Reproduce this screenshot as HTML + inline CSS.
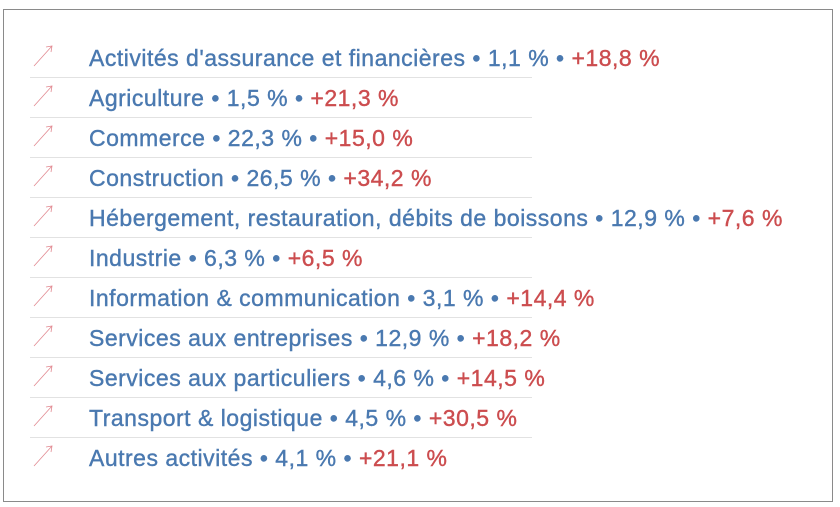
<!DOCTYPE html>
<html><head><meta charset="utf-8"><style>
html,body{margin:0;padding:0;background:#fff;}
body{width:840px;height:507px;position:relative;overflow:hidden;font-family:"Liberation Sans",sans-serif;}
#frame{position:absolute;left:3px;top:9px;width:830px;height:493px;border:1px solid #8a8a8a;box-sizing:border-box;}
.row{position:absolute;left:30px;width:502px;height:40px;}
.sep{position:absolute;left:0;right:0;bottom:0;height:1px;background:#e2e2e2;}
.lbl{position:absolute;left:59px;top:6px;font-size:23px;line-height:28px;white-space:nowrap;color:#4a79b0;letter-spacing:0.5px;-webkit-text-stroke:0.4px currentColor;}
.red{color:#cc4d4f;}
.arrow{position:absolute;left:2px;top:5px;}
</style></head><body>
<div id="frame"></div>
<div id="list"></div>
<script>
const sectors=["Activités d'assurance et financières","Agriculture","Commerce","Construction","Hébergement, restauration, débits de boissons","Industrie","Information & communication","Services aux entreprises","Services aux particuliers","Transport & logistique","Autres activités"];
const shares=["1,1 %","1,5 %","22,3 %","26,5 %","12,9 %","6,3 %","3,1 %","12,9 %","4,6 %","4,5 %","4,1 %"];
const growth=["+18,8 %","+21,3 %","+15,0 %","+34,2 %","+7,6 %","+6,5 %","+14,4 %","+18,2 %","+14,5 %","+30,5 %","+21,1 %"];
const list=document.getElementById('list');
sectors.forEach((s,i)=>{
  const r=document.createElement('div');
  r.className='row';
  r.style.top=(38+i*40)+'px';
  
  
  r.innerHTML='<svg class="arrow" width="24" height="24" viewBox="0 0 24 24"><path d="M2 23 L20 3 M14 4 L20 3 L19 9" fill="none" stroke="#e28a92" stroke-width="0.8"/></svg>'+
    '<div class="lbl">'+s.replace(/&/g,'&amp;')+' • '+shares[i]+' • <span class="red">'+growth[i]+'</span></div>'+
    (i<sectors.length-1?'<div class="sep"></div>':'');
  r.querySelector('svg');
  r.querySelector('svg');
  r.querySelector('.lbl');
  r.querySelector('.lbl');
  list.appendChild(r);
});
</script>
</body></html>
